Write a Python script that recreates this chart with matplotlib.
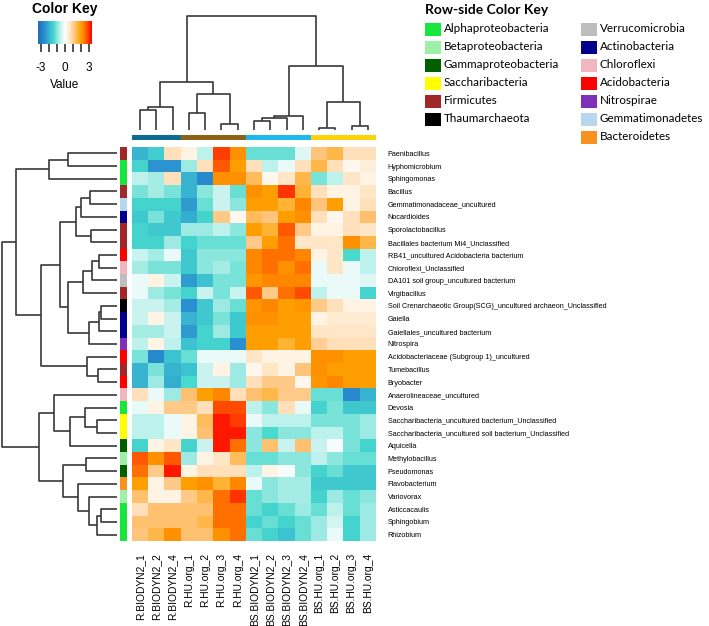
import numpy as np
import matplotlib
matplotlib.use("Agg")
import matplotlib.pyplot as plt
from matplotlib.colors import LinearSegmentedColormap, to_rgb

W, H = 709, 626

samples = ["R.BIODYN2_1", "R.BIODYN2_2", "R.BIODYN2_4", "R.HU.org_1", "R.HU.org_2", "R.HU.org_3", "R.HU.org_4",
           "BS.BIODYN2_1", "BS.BIODYN2_2", "BS.BIODYN2_3", "BS.BIODYN2_4",
           "BS.HU.org_1", "BS.HU.org_2", "BS.HU.org_3", "BS.HU.org_4"]
sample_group = ["R.BIODYN2"] * 3 + ["R.HU.org"] * 4 + ["BS.BIODYN2"] * 4 + ["BS.HU.org"] * 4
group_colors = {"R.BIODYN2": "#0d6a90", "R.HU.org": "#8c6418", "BS.BIODYN2": "#1cb8ee", "BS.HU.org": "#ffd20a"}

taxa = ["Paenibacillus", "Hyphomicrobium", "Sphingomonas", "Bacillus", "Gemmatimonadaceae_uncultured",
        "Nocardioides", "Sporolactobacillus", "Bacillales bacterium Mi4_Unclassified",
        "RB41_uncultured Acidobacteria bacterium", "Chloroflexi_Unclassified",
        "DA101 soil group_uncultured bacterium", "Virgibacillus",
        "Soil Crenarchaeotic Group(SCG)_uncultured archaeon_Unclassified", "Gaiella",
        "Gaiellales_uncultured bacterium", "Nitrospira", "Acidobacteriaceae (Subgroup 1)_uncultured",
        "Tumebacillus", "Bryobacter", "Anaerolineaceae_uncultured", "Devosia",
        "Saccharibacteria_uncultured bacterium_Unclassified",
        "Saccharibacteria_uncultured soil bacterium_Unclassified", "Aquicella", "Methylobacillus",
        "Pseudomonas", "Flavobacterium", "Variovorax", "Asticcacaulis", "Sphingobium", "Rhizobium"]
taxa_phylum = ["Firmicutes", "Alphaproteobacteria", "Alphaproteobacteria", "Firmicutes", "Gemmatimonadetes",
               "Actinobacteria", "Firmicutes", "Firmicutes", "Acidobacteria", "Chloroflexi",
               "Verrucomicrobia", "Firmicutes", "Thaumarchaeota", "Actinobacteria", "Actinobacteria",
               "Nitrospirae", "Acidobacteria", "Firmicutes", "Acidobacteria", "Chloroflexi",
               "Alphaproteobacteria", "Saccharibacteria", "Saccharibacteria", "Gammaproteobacteria",
               "Betaproteobacteria", "Gammaproteobacteria", "Bacteroidetes", "Betaproteobacteria",
               "Alphaproteobacteria", "Alphaproteobacteria", "Alphaproteobacteria"]

phyla_col1 = ["Alphaproteobacteria", "Betaproteobacteria", "Gammaproteobacteria", "Saccharibacteria",
              "Firmicutes", "Thaumarchaeota"]
phyla_col2 = ["Verrucomicrobia", "Actinobacteria", "Chloroflexi", "Acidobacteria", "Nitrospirae",
              "Gemmatimonadetes", "Bacteroidetes"]
phylum_colors = {"Alphaproteobacteria": "#19e63c", "Betaproteobacteria": "#9cf0a8",
                 "Gammaproteobacteria": "#006000", "Saccharibacteria": "#ffff00", "Firmicutes": "#a02828",
                 "Thaumarchaeota": "#000000", "Verrucomicrobia": "#bebebe", "Actinobacteria": "#00008c",
                 "Chloroflexi": "#f2b6c0", "Acidobacteria": "#ff0000", "Nitrospirae": "#7f30b8",
                 "Gemmatimonadetes": "#b8d6ee", "Bacteroidetes": "#f8921e"}

# row z-scores
values = np.array([
    [-2.0, -1.6, 0.7, 0.3, -0.6, 2.9, 2.2, -1.2, -1.2, -1.2, -0.3, 1.2, 1.5, 0.7, 0.7],
    [-1.5, -2.5, -2.5, -0.9, 0.7, 2.7, 2.0, 0.7, -0.6, -0.2, 0.7, 1.5, 0.7, 0.2, 0.4],
    [-0.6, -0.8, 0.7, -2.0, -2.7, 2.2, 2.2, 1.4, 0.2, 0.6, 1.5, -1.1, -0.6, 0.6, 0.3],
    [-1.1, -0.8, -1.1, -2.0, -1.0, -0.5, -1.2, 2.2, 2.0, 3.0, 1.6, 0.7, 0.3, 0.3, 0.6],
    [-1.5, -1.5, -1.5, -2.4, -1.2, -0.5, -1.0, 2.0, 2.0, 1.6, 2.3, 1.2, 2.0, 0.3, 0.7],
    [-1.7, -1.1, -1.7, -2.1, -1.5, 1.1, 0.2, 1.4, 1.2, 2.0, 2.2, 0.7, 0.2, 0.7, 1.3],
    [-1.5, -1.7, -1.7, -0.9, -0.9, -0.6, -1.0, 2.0, 1.6, 2.7, 1.1, 0.3, 0.3, 0.7, 0.6],
    [-1.5, -1.5, -0.9, -1.5, -1.2, -1.2, -1.2, 1.1, 2.0, 2.5, 0.6, 0.6, 0.6, 2.2, 1.5],
    [-0.5, -0.8, -0.2, -1.7, -1.0, -1.0, -1.0, 2.3, 2.5, 2.5, 2.3, 0.3, 0.6, -1.4, -0.6],
    [-0.8, -1.1, -1.1, -1.7, -1.0, -0.8, -1.1, 2.3, 2.5, 2.2, 2.5, -0.2, 0.6, -0.2, -0.6],
    [-0.2, 0.3, -0.5, -2.4, -1.8, -1.1, -1.1, 2.1, 2.3, 2.3, 2.3, -0.2, -0.2, -0.2, -0.3],
    [-0.2, -0.9, -1.1, -1.5, -0.5, -1.1, -0.5, 2.7, 1.1, 2.5, 2.8, -0.6, -0.2, -0.2, -1.5],
    [-0.5, -0.5, -0.8, -2.6, -1.7, -0.9, -1.2, 2.1, 2.3, 2.0, 2.1, 1.1, 0.7, 0.3, 0.3],
    [-0.5, 0.3, -0.5, -2.0, -1.7, -1.1, -1.7, 2.2, 2.2, 2.0, 2.0, 0.3, 0.5, 0.5, 0.5],
    [-0.8, -0.8, -0.5, -2.4, -1.5, -0.9, -1.7, 2.0, 2.0, 2.0, 2.0, 0.6, 0.6, 0.6, 0.6],
    [-0.6, 0.3, -0.6, -1.8, -1.5, -1.5, -2.6, 2.0, 2.0, 1.6, 2.0, 1.0, 0.7, 0.7, 0.7],
    [-1.1, -2.7, -1.8, -1.2, -0.2, -0.2, -0.2, 0.6, 0.3, 0.3, 0.3, 2.2, 2.2, 2.0, 2.0],
    [-2.0, -1.1, -2.0, -1.8, -0.5, 0.3, -0.9, 0.2, 0.6, 0.3, 1.2, 2.2, 2.0, 2.0, 2.0],
    [-2.0, -0.9, -2.1, -1.4, -0.5, -0.5, -0.9, 0.7, 1.1, 1.1, 0.2, 2.1, 2.3, 2.0, 2.0],
    [0.7, -0.2, -0.9, 1.3, 2.0, 2.3, 0.7, 1.3, 1.5, 1.1, 1.1, -1.2, -1.2, -2.7, -2.0],
    [-0.2, 0.3, 1.1, 1.1, 0.7, 2.8, 2.8, -0.6, -1.0, 0.7, -0.2, -1.5, -1.1, -1.7, -1.7],
    [-0.6, -0.6, -0.2, 0.3, 1.4, 3.2, 2.9, -0.2, -0.6, -0.6, -0.6, -1.1, -1.1, -1.1, -0.9],
    [-0.6, -0.6, -0.2, 0.3, 1.3, 3.2, 3.2, -1.0, -1.4, -1.0, -1.0, -0.6, -0.6, -1.1, -0.9],
    [-1.5, 0.3, 0.6, -1.5, -0.5, 3.2, 2.5, -1.0, 1.3, -0.5, 1.3, -0.5, -0.1, -1.1, -1.5],
    [2.7, 2.2, 2.7, -0.9, 0.3, 0.6, 1.4, -1.2, -1.2, -1.0, -1.0, -0.6, -1.0, -1.2, -1.2],
    [2.5, 1.1, 3.2, 0.3, 0.7, 0.7, 0.7, -0.6, 0.3, -0.1, -1.0, -1.5, -1.2, -1.7, -1.7],
    [2.0, 0.3, 1.1, 2.0, 2.2, 1.6, 2.3, -0.2, -1.0, -0.8, -0.8, -1.7, -1.7, -1.7, -1.7],
    [1.3, 0.3, 0.3, 1.1, 1.5, 2.5, 3.0, -1.2, -1.0, -0.8, -0.8, -1.5, -0.9, -1.2, -1.0],
    [0.7, 1.3, 1.3, 1.3, 1.3, 2.5, 2.5, -1.2, -1.5, -1.2, -0.9, -1.2, -0.6, -1.2, -0.9],
    [1.3, 1.3, 1.3, 1.3, 1.5, 2.5, 2.5, -1.5, -1.2, -1.5, -1.2, -0.9, -0.4, -1.5, -0.9],
    [1.2, 1.5, 2.2, 1.3, 1.3, 2.2, 2.5, -1.2, -1.5, -1.8, -1.2, -0.9, -0.2, -1.5, -0.9],
])

# dendrogram merges (left, right, height) in scipy style: new node ids start at n
col_merges = [(0, 1, 60), (15, 2, 70), (3, 4, 50), (5, 6, 17), (17, 18, 107), (16, 19, 143),
              (7, 8, 27), (21, 9, 35), (22, 10, 43), (11, 12, 5), (13, 14, 11), (24, 25, 83),
              (23, 26, 194), (20, 27, 343)]
row_merges = [(0, 1, 147), (31, 2, 202), (3, 4, 80), (33, 5, 107), (6, 7, 78), (34, 35, 122),
              (8, 9, 52), (37, 10, 74), (38, 11, 100), (12, 13, 47), (40, 14, 53), (41, 15, 82),
              (39, 42, 146), (36, 43, 170), (17, 18, 55), (16, 45, 88), (44, 46, 227), (32, 47, 303),
              (21, 22, 60), (20, 49, 96), (50, 23, 140), (19, 51, 187), (24, 25, 92), (28, 29, 47),
              (54, 30, 58), (27, 55, 82), (26, 56, 115), (53, 57, 160), (52, 58, 232), (48, 59, 345)]

vlim = 3.4
cmap = LinearSegmentedColormap.from_list("key", [
    ((-3.4 + vlim) / (2 * vlim), "#1f6db5"), ((-2.6 + vlim) / (2 * vlim), "#2a8fd0"),
    ((-1.9 + vlim) / (2 * vlim), "#3bbcd2"), ((-1.4 + vlim) / (2 * vlim), "#48dacd"),
    ((-0.9 + vlim) / (2 * vlim), "#9ceae3"), ((-0.3 + vlim) / (2 * vlim), "#e0f8f5"),
    (0.5, "#ffffff"), ((0.4 + vlim) / (2 * vlim), "#fff0dc"), ((0.8 + vlim) / (2 * vlim), "#ffdcb0"),
    ((1.3 + vlim) / (2 * vlim), "#ffc070"), ((1.9 + vlim) / (2 * vlim), "#ffa800"),
    ((2.4 + vlim) / (2 * vlim), "#ff8000"), ((2.9 + vlim) / (2 * vlim), "#ff4000"), (1.0, "#ff0000")])

fig = plt.figure(figsize=(W / 100, H / 100), dpi=100)


def px_axes(x0, y0, x1, y1):
    return fig.add_axes([x0 / W, 1 - y1 / H, (x1 - x0) / W, (y1 - y0) / H])


def draw_dendro(ax, merges, n, top=True):
    pos = {i: i + 0.5 for i in range(n)}
    hgt = {i: 0 for i in range(n)}
    for k, (a, b, h) in enumerate(merges):
        xs = [pos[a], pos[a], pos[b], pos[b]]
        ys = [hgt[a], h, h, hgt[b]]
        if top:
            ax.plot(xs, ys, color="#383838", lw=1.2, clip_on=False, solid_capstyle="butt")
        else:
            ax.plot(ys, xs, color="#383838", lw=1.2, clip_on=False, solid_capstyle="butt")
        pos[n + k] = (pos[a] + pos[b]) / 2
        hgt[n + k] = h
    ax.axis("off")


nr, nc = values.shape

# main heatmap
ax = px_axes(132, 147, 376, 541)
ax.imshow(values, cmap=cmap, vmin=-vlim, vmax=vlim, aspect="auto", interpolation="nearest",
          extent=(0, nc, nr, 0))
ax.set_xticks(np.arange(nc) + 0.5)
ax.set_xticklabels(samples, rotation=90, fontsize=7.4, family="Liberation Sans")
ax.set_yticks(np.arange(nr) + 0.5)
ax.set_yticklabels(taxa, fontsize=5.2, family="Liberation Sans")
ax.yaxis.tick_right()
ax.tick_params(axis="x", length=0, pad=8.5)
ax.tick_params(axis="y", length=0, pad=8.5)
for s in ax.spines.values():
    s.set_visible(False)

# column side colours
axc = px_axes(132, 135, 376, 140)
axc.imshow([[to_rgb(group_colors[g]) for g in sample_group]], aspect="auto", extent=(0, nc, 1, 0))
axc.axis("off")

# row side colours
axr = px_axes(120, 147, 126, 541)
axr.imshow([[to_rgb(phylum_colors[p])] for p in taxa_phylum], aspect="auto", extent=(0, 1, nr, 0))
axr.axis("off")

# dendrograms
axd = px_axes(132, 16, 376, 130)
draw_dendro(axd, col_merges, nc, top=True)
axd.set_xlim(0, nc)
axd.set_ylim(0, 343)

axrd = px_axes(1.7, 147, 116.7, 541)
draw_dendro(axrd, row_merges, nr, top=False)
axrd.set_xlim(345, 0)
axrd.set_ylim(nr, 0)

# colour key
axk = px_axes(38, 21, 92, 44)
grad = np.linspace(-vlim, vlim, 256)[None, :]
axk.imshow(grad, cmap=cmap, vmin=-vlim, vmax=vlim, aspect="auto", extent=(-vlim, vlim, 0, 1))
axk.set_xticks(range(-3, 4))
axk.set_xticklabels(["-3", "", "", "0", "", "", "3"], fontsize=8.5, family="Liberation Sans")
axk.set_yticks([])
axk.tick_params(axis="x", length=6, width=1.1, pad=7, color="#222222")
for s in axk.spines.values():
    s.set_visible(False)

# text and legend overlay in pixel units
ov = fig.add_axes([0, 0, 1, 1])
ov.set_xlim(0, W)
ov.set_ylim(H, 0)
ov.axis("off")
ov.text(65, 9, "Color Key", ha="center", va="center", fontsize=10, fontweight="bold", family="Liberation Sans")
ov.text(65, 85, "Value", ha="center", va="center", fontsize=8.5, family="Liberation Sans")
ov.text(425, 10, "Row-side Color Key", ha="left", va="center", fontsize=10, fontweight="bold", family="Lato")
for col_x, names in [(425, phyla_col1), (581, phyla_col2)]:
    for i, name in enumerate(names):
        yc = 29 + 18 * i
        ov.add_patch(plt.Rectangle((col_x, yc - 6.5), 16, 13, color=phylum_colors[name], lw=0))
        ov.text(col_x + 19, yc, name, ha="left", va="center", fontsize=8.4, family="Lato")

fig.savefig("out.png", dpi=100)
